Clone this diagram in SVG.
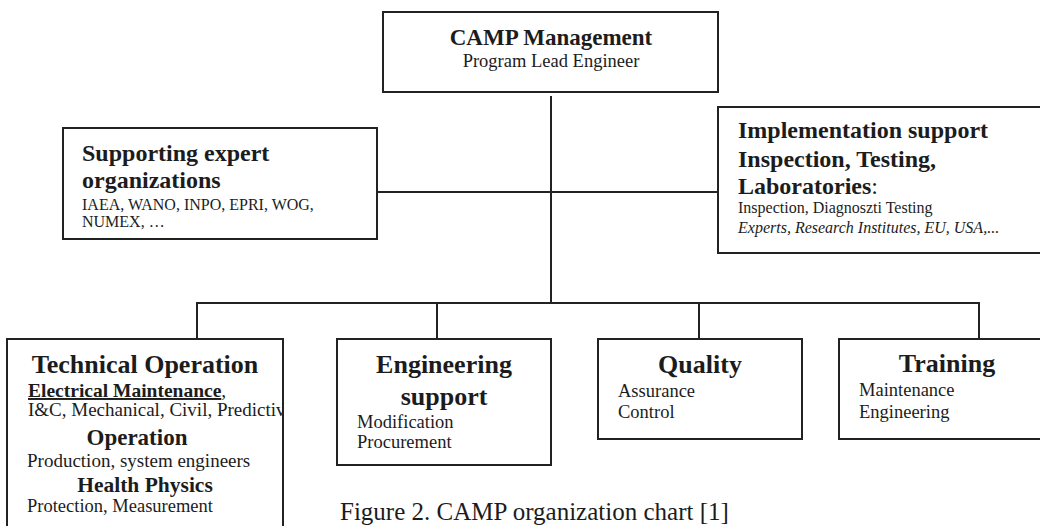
<svg xmlns="http://www.w3.org/2000/svg" width="1040" height="526" viewBox="0 0 1040 526">
  <style>
    text { font-family: "Liberation Serif", "Times New Roman", serif; fill: #1c1c1c; }
    .box { fill: #ffffff; stroke: #222222; stroke-width: 2; }
    .wire { fill: none; stroke: #222222; stroke-width: 2; }
    .b { font-weight: bold; }
    .mid { text-anchor: middle; }
  </style>
  <defs>
    <clipPath id="techClip">
      <rect x="8" y="340" width="274" height="200"/>
    </clipPath>
  </defs>

  <rect x="0" y="0" width="1040" height="526" fill="#ffffff"/>

  <!-- connectors -->
  <g id="connectors">
    <line class="wire" x1="551" y1="96" x2="551" y2="304"/>
    <line class="wire" x1="377" y1="192" x2="718" y2="192"/>
    <polyline class="wire" points="197,339 197,303 979,303 979,339"/>
    <line class="wire" x1="437" y1="303" x2="437" y2="339"/>
    <line class="wire" x1="699" y1="303" x2="699" y2="339"/>
  </g>

  <!-- top: management -->
  <g id="camp-management">
    <rect class="box" x="383" y="12" width="335" height="80"/>
    <text class="b mid" x="551" y="45" font-size="23">CAMP Management</text>
    <text class="mid" x="551" y="67" font-size="18.5">Program Lead Engineer</text>
  </g>

  <!-- left: expert organizations -->
  <g id="supporting-experts">
    <rect class="box" x="63" y="128" width="314" height="111"/>
    <text class="b" x="82" y="161" font-size="24">Supporting expert</text>
    <text class="b" x="82" y="188" font-size="24">organizations</text>
    <text x="82" y="210" font-size="16">IAEA, WANO, INPO, EPRI, WOG,</text>
    <text x="82" y="227" font-size="16">NUMEX, …</text>
  </g>

  <!-- right: implementation support -->
  <g id="implementation-support">
    <rect class="box" x="718" y="107" width="340" height="146"/>
    <text class="b" x="738" y="138" font-size="24">Implementation support</text>
    <text class="b" x="738" y="167" font-size="24">Inspection, Testing,</text>
    <text x="738" y="194" font-size="24"><tspan class="b">Laboratories</tspan>:</text>
    <text x="738" y="213" font-size="16">Inspection, Diagnoszti Testing</text>
    <text x="738" y="233" font-size="16" font-style="italic">Experts, Research Institutes, EU, USA,...</text>
  </g>

  <!-- bottom row -->
  <g id="technical-operation">
    <rect class="box" x="7" y="339" width="276" height="200"/>
    <g clip-path="url(#techClip)">
      <text class="b mid" x="145" y="373" font-size="26">Technical Operation</text>
      <text x="28" y="397" font-size="19.5"><tspan class="b" text-decoration="underline">Electrical Maintenance</tspan>,</text>
      <text x="28" y="416" font-size="19">I&amp;C, Mechanical, Civil, Predictive</text>
      <text class="b mid" x="137" y="445" font-size="23">Operation</text>
      <text x="27" y="467" font-size="19">Production, system engineers</text>
      <text class="b mid" x="145" y="492" font-size="21.5">Health Physics</text>
      <text x="27" y="512" font-size="18.5">Protection, Measurement</text>
    </g>
  </g>

  <g id="engineering-support">
    <rect class="box" x="337" y="339" width="214" height="126"/>
    <text class="b mid" x="444" y="373" font-size="26">Engineering</text>
    <text class="b mid" x="444" y="405" font-size="26">support</text>
    <text x="357" y="428" font-size="18.5">Modification</text>
    <text x="357" y="448" font-size="18.5">Procurement</text>
  </g>

  <g id="quality">
    <rect class="box" x="598" y="339" width="204" height="100"/>
    <text class="b mid" x="700" y="373" font-size="26">Quality</text>
    <text x="618" y="397" font-size="18.5">Assurance</text>
    <text x="618" y="418" font-size="18.5">Control</text>
  </g>

  <g id="training">
    <rect class="box" x="839" y="339" width="216" height="100"/>
    <text class="b mid" x="947" y="372" font-size="26">Training</text>
    <text x="859" y="396" font-size="18.5">Maintenance</text>
    <text x="859" y="418" font-size="18.5">Engineering</text>
  </g>

  <!-- caption -->
  <text x="340" y="520" font-size="25">Figure 2. CAMP organization chart [1]</text>
</svg>
